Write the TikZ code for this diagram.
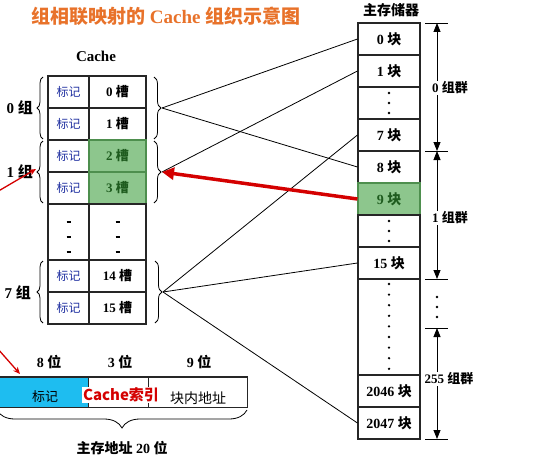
\documentclass[tikz,border=0pt]{standalone}
\usepackage{fontspec}
\setmainfont{Liberation Serif}
\newfontfamily\cjk{Noto Sans CJK SC}
\usetikzlibrary{arrows.meta,decorations.pathreplacing}
\definecolor{titleor}{HTML}{E8722A}
\definecolor{redc}{HTML}{D40000}
\definecolor{greenf}{HTML}{8DC68D}
\definecolor{greend}{HTML}{4E8F4E}
\definecolor{greent}{HTML}{1F5C1F}
\definecolor{bluet}{HTML}{1F2FA0}
\definecolor{cyanf}{HTML}{1EBDF0}
\newcommand{\zh}[1]{{\cjk #1}}
\begin{document}
\begin{tikzpicture}[x=1pt,y=-1pt,
  frame/.style={draw=black!85, line width=1.1pt, inner sep=0pt, minimum height=32pt},
  lc/.style={frame, minimum width=41pt, font=\fontsize{12}{14}\selectfont\cjk, text=bluet},
  rc/.style={frame, minimum width=57pt, font=\fontsize{13}{15}\selectfont\bfseries},
  gc/.style={rc, fill=greenf, draw=greend, text=greent},
  mc/.style={frame, minimum width=62pt, font=\fontsize{14}{16}\selectfont\bfseries},
  lab/.style={inner sep=0pt, font=\fontsize{14}{16}\selectfont\bfseries},
  grp/.style={inner sep=1pt, fill=white, font=\fontsize{13}{15}\selectfont\bfseries},
  conn/.style={draw=black, line width=0.8pt},
  brl/.style={draw=black, line width=0.8pt, decorate, decoration={brace, amplitude=6pt}},
  brr/.style={draw=black, line width=0.8pt, decorate, decoration={brace, amplitude=7pt}},
  dim/.style={draw=black, line width=0.8pt},
  dimarrow/.style={draw=black, line width=0.8pt, {Triangle[length=9pt,width=7pt]}-{Triangle[length=9pt,width=7pt]}},
  redarrow/.style={draw=redc, line width=3.5pt, -{Triangle[length=12pt,width=12pt]}},
  thinred/.style={draw=redc, line width=1.3pt, -{Stealth[length=7pt,width=6pt]}},
  dot/.style={fill=black}
]
\useasboundingbox (0,0) rectangle (551,460);

% title
\node[anchor=west, inner sep=0pt, text=titleor, font=\fontsize{19}{21}\selectfont\bfseries] (title) at (31,16) {\zh{组相联映射的} Cache \zh{组织示意图}};

% cache
\node[lab, font=\fontsize{15}{17}\selectfont\bfseries] (cachelab) at (96,56) {Cache};
\node[lc] (t0) at (68.5,92) {标记};
\node[rc] (s0) at (117.5,92) {0 \zh{槽}};
\node[lc] (t1) at (68.5,124) {标记};
\node[rc] (s1) at (117.5,124) {1 \zh{槽}};
\node[lc] (t2) at (68.5,156) {标记};
\node[gc] (s2) at (117.5,156) {2 \zh{槽}};
\node[lc] (t3) at (68.5,188) {标记};
\node[gc] (s3) at (117.5,188) {3 \zh{槽}};
\node[lc, minimum height=56pt] (tdots) at (68.5,232) {};
\node[rc, minimum height=56pt] (sdots) at (117.5,232) {};
\node[lc] (t14) at (68.5,276) {标记};
\node[rc] (s14) at (117.5,276) {14 \zh{槽}};
\node[lc] (t15) at (68.5,308) {标记};
\node[rc] (s15) at (117.5,308) {15 \zh{槽}};
\foreach \y in {222,237,252}{
  \draw[line width=1.4pt] (66.5,\y) -- (70.5,\y);
  \draw[line width=1.4pt] (115.5,\y) -- (119.5,\y);
}

% left braces and labels
\draw[brl] (43,139) -- (43,77);
\draw[brl] (43,203) -- (43,141);
\draw[brl] (43,323) -- (43,261);
\node[lab, font=\fontsize{15}{17}\selectfont\bfseries, anchor=east] (g0l) at (33,108) {0 \zh{组}};
\node[lab, font=\fontsize{15}{17}\selectfont\bfseries, anchor=east] (g1l) at (33,172) {1 \zh{组}};
\node[lab, font=\fontsize{15}{17}\selectfont\bfseries, anchor=east] (g7l) at (31,293) {7 \zh{组}};

% right braces
\draw[brr] (154,77) -- (154,139);
\draw[brr] (154,141) -- (154,203);
\draw[brr] (155,261) -- (155,323);
\coordinate (g0) at (162,108);
\coordinate (g1) at (162,172);
\coordinate (g7) at (163,292);

% main memory
\node[lab] (memlab) at (391,10) {\zh{主存储器}};
\node[mc] (m0) at (389,39) {0 \zh{块}};
\node[mc] (m1) at (389,71) {1 \zh{块}};
\node[mc] (md1) at (389,103) {};
\node[mc] (m7) at (389,135) {7 \zh{块}};
\node[mc] (m8) at (389,167) {8 \zh{块}};
\node[mc, fill=greenf, draw=greend, text=greent] (m9) at (389,199) {9 \zh{块}};
\node[mc] (md2) at (389,231) {};
\node[mc] (m15) at (389,263) {15 \zh{块}};
\node[mc, minimum height=96pt] (md3) at (389,327) {};
\node[mc] (m2046) at (389,391) {2046 \zh{块}};
\node[mc] (m2047) at (389,423) {2047 \zh{块}};
\foreach \y in {93,103,113,221,231,241}{\fill[dot] (389,\y) circle (1.3pt);}
\foreach \k in {0,...,8}{\fill[dot] (389,284+\k*10.6) circle (1.3pt);}

% group dimensions
\foreach \y in {23,151,279,328,439}{\draw[dim] (425,\y) -- (448,\y);}
\draw[dimarrow] (437,23) -- (437,151);
\draw[dimarrow] (437,151) -- (437,279);
\draw[dimarrow] (437,328) -- (437,439);
\node[grp] (cg0) at (450,88) {0 \zh{组群}};
\node[grp] (cg1) at (450,218) {1 \zh{组群}};
\node[grp] (cg255) at (449,379) {255 \zh{组群}};
\foreach \y in {297,307,317}{\fill[dot] (437,\y) circle (1.4pt);}

% connectors
\draw[conn] (g0) -- (m0.west);
\draw[conn] (g0) -- (m8.west);
\draw[conn] (g1) -- (m1.west);
\draw[conn] (g7) -- (m7.west);
\draw[conn] (g7) -- (m15.west);
\draw[conn] (g7) -- (m2047.west);
\draw[redarrow] (m9.west) -- (g1);

% address bar
\node[draw=black!85, line width=0.8pt, fill=cyanf, minimum width=93pt, minimum height=30pt, inner sep=0pt] (a1) at (41.5,392) {};
\node[draw=black!85, line width=0.8pt, minimum width=60pt, minimum height=30pt, inner sep=0pt] (a2) at (118,392) {};
\node[draw=black!85, line width=0.8pt, minimum width=99pt, minimum height=30pt, inner sep=0pt] (a3) at (197.5,392) {};
\draw[line width=1.2pt, draw=black!85] (a1.north west) rectangle (a3.south east);
\node[inner sep=0pt, font=\fontsize{13}{15}\selectfont\cjk] (atag) at (45,397) {标记};
\node[fill=white, inner sep=1pt, text=redc, font=\fontsize{15}{17}\selectfont\cjk\bfseries] (aidx) at (121,395) {Cache索引};
\node[inner sep=0pt, font=\fontsize{14}{16}\selectfont\cjk] (aoff) at (198,398) {块内地址};
\node[lab] (b8) at (49,362) {8 \zh{位}};
\node[lab] (b3) at (120,362) {3 \zh{位}};
\node[lab] (b9) at (199,362) {9 \zh{位}};
\draw[brr, decoration={brace, amplitude=18pt}] (247,410) -- (-3,410);
\node[lab] (addr) at (122,448) {\zh{主存地址} 20 \zh{位}};

% left red arrows
\coordinate (r1s) at (-10,196);
\coordinate (r1e) at (36,169);
\coordinate (r2s) at (-10,340);
\coordinate (r2e) at (20,374);
\draw[thinred] (r1s) -- (r1e);
\draw[thinred] (r2s) -- (r2e);
\end{tikzpicture}
\end{document}
